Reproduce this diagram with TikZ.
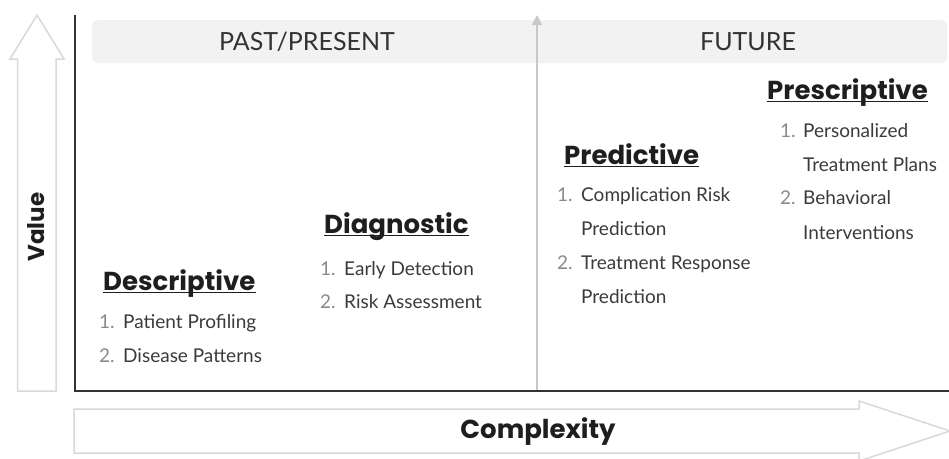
\documentclass[tikz,border=0pt]{standalone}
\usepackage{fontspec}
\setmainfont{Lato}
\newfontfamily\popfont{Poppins}
\usetikzlibrary{arrows.meta}

\definecolor{bandfill}{HTML}{F2F2F2}
\definecolor{ghost}{HTML}{D9D9D9}
\definecolor{axiscol}{HTML}{333333}
\definecolor{midline}{HTML}{C8C8C8}
\definecolor{itemtext}{HTML}{3A3A3A}
\definecolor{itemnum}{HTML}{8A8A8A}
\definecolor{headcol}{HTML}{1E1E1E}

\tikzset{
  headword/.style={anchor=base west, inner sep=0pt, text=headcol,
    font=\popfont\bfseries\fontsize{26}{29}\selectfont},
  headline/.style={draw=headcol, line width=1.4pt},
  numtxt/.style={anchor=base west, inner sep=0pt, text=itemnum,
    font=\fontsize{19}{22}\selectfont},
  itemtxt/.style={anchor=base west, inner sep=0pt, text=itemtext,
    font=\fontsize{19}{22}\selectfont},
  axislabel/.style={inner sep=0pt, text=headcol,
    font=\popfont\bfseries\fontsize{26}{29}\selectfont},
  periodlabel/.style={inner sep=0pt, text=axiscol,
    font=\fontsize{25}{28}\selectfont},
  hollowarrow/.style={draw=ghost, line width=1.5pt, fill=white, line join=miter},
}

\begin{document}
\begin{tikzpicture}[x=1pt,y=-1pt]
  \useasboundingbox (0,0) rectangle (949,458);

  % header band
  \fill[bandfill, rounded corners=6pt] (92,20) rectangle (947,63);
  \node[periodlabel] (past) at (307,42) {PAST/PRESENT};
  \node[periodlabel] (future) at (748,42) {FUTURE};

  % value arrow (hollow, pointing up)
  \draw[hollowarrow] (17.5,391) -- (17.5,59) -- (10,59) -- (37,15) -- (64,59)
    -- (56,59) -- (56,391) -- cycle;
  \node[axislabel, rotate=90, font=\popfont\bfseries\fontsize{23}{27}\selectfont]
    (value) at (36.5,227) {Value};

  % complexity arrow (hollow, pointing right)
  \draw[hollowarrow] (74,409) -- (859,409) -- (859,401) -- (950,431) -- (859,461)
    -- (859,453) -- (74,453) -- cycle;
  \node[axislabel] (complexity) at (538,432) {Complexity};

  % axes frame
  \draw[axiscol, line width=2pt] (74.5,15) -- (74.5,391) -- (949,391);

  % divider between past and future
  \coordinate (divbot) at (537,390);
  \coordinate (divtop) at (537,15);
  \draw[midline, line width=1.8pt, -{Triangle[width=10pt,length=10pt]}] (divbot) -- (divtop);

  % Descriptive
  \node[headword] (desc) at (103,290) {Descriptive};
  \draw[headline] ([yshift=-2.5pt]desc.base west) -- ([yshift=-2.5pt]desc.base east);
  \node[numtxt] (descn1) at (99,328) {1.};
  \node[itemtxt] (desct1) at (123,328) {Patient Profiling};
  \node[numtxt] (descn2) at (99,362) {2.};
  \node[itemtxt] (desct2) at (123,362) {Disease Patterns};

  % Diagnostic
  \node[headword] (diag) at (324,233) {Diagnostic};
  \draw[headline] ([yshift=-2.5pt]diag.base west) -- ([yshift=-2.5pt]diag.base east);
  \node[numtxt] (diagn1) at (320,275) {1.};
  \node[itemtxt] (diagt1) at (344,275) {Early Detection};
  \node[numtxt] (diagn2) at (320,308) {2.};
  \node[itemtxt] (diagt2) at (344,308) {Risk Assessment};

  % Predictive
  \node[headword] (pred) at (564,164) {Predictive};
  \draw[headline] ([yshift=-2.5pt]pred.base west) -- ([yshift=-2.5pt]pred.base east);
  \node[numtxt] (predn1) at (557,201) {1.};
  \node[itemtxt] (predt1) at (581,201) {Complication Risk};
  \node[itemtxt] (predt1b) at (581,235) {Prediction};
  \node[numtxt] (predn2) at (557,269) {2.};
  \node[itemtxt] (predt2) at (581,269) {Treatment Response};
  \node[itemtxt] (predt2b) at (581,303) {Prediction};

  % Prescriptive
  \node[headword] (presc) at (767,99) {Prescriptive};
  \draw[headline] ([yshift=-2.5pt]presc.base west) -- ([yshift=-2.5pt]presc.base east);
  \node[numtxt] (prescn1) at (780,137) {1.};
  \node[itemtxt] (presct1) at (803,137) {Personalized};
  \node[itemtxt] (presct1b) at (803,171) {Treatment Plans};
  \node[numtxt] (prescn2) at (780,204) {2.};
  \node[itemtxt] (presct2) at (803,204) {Behavioral};
  \node[itemtxt] (presct2b) at (803,239) {Interventions};
\end{tikzpicture}
\end{document}
